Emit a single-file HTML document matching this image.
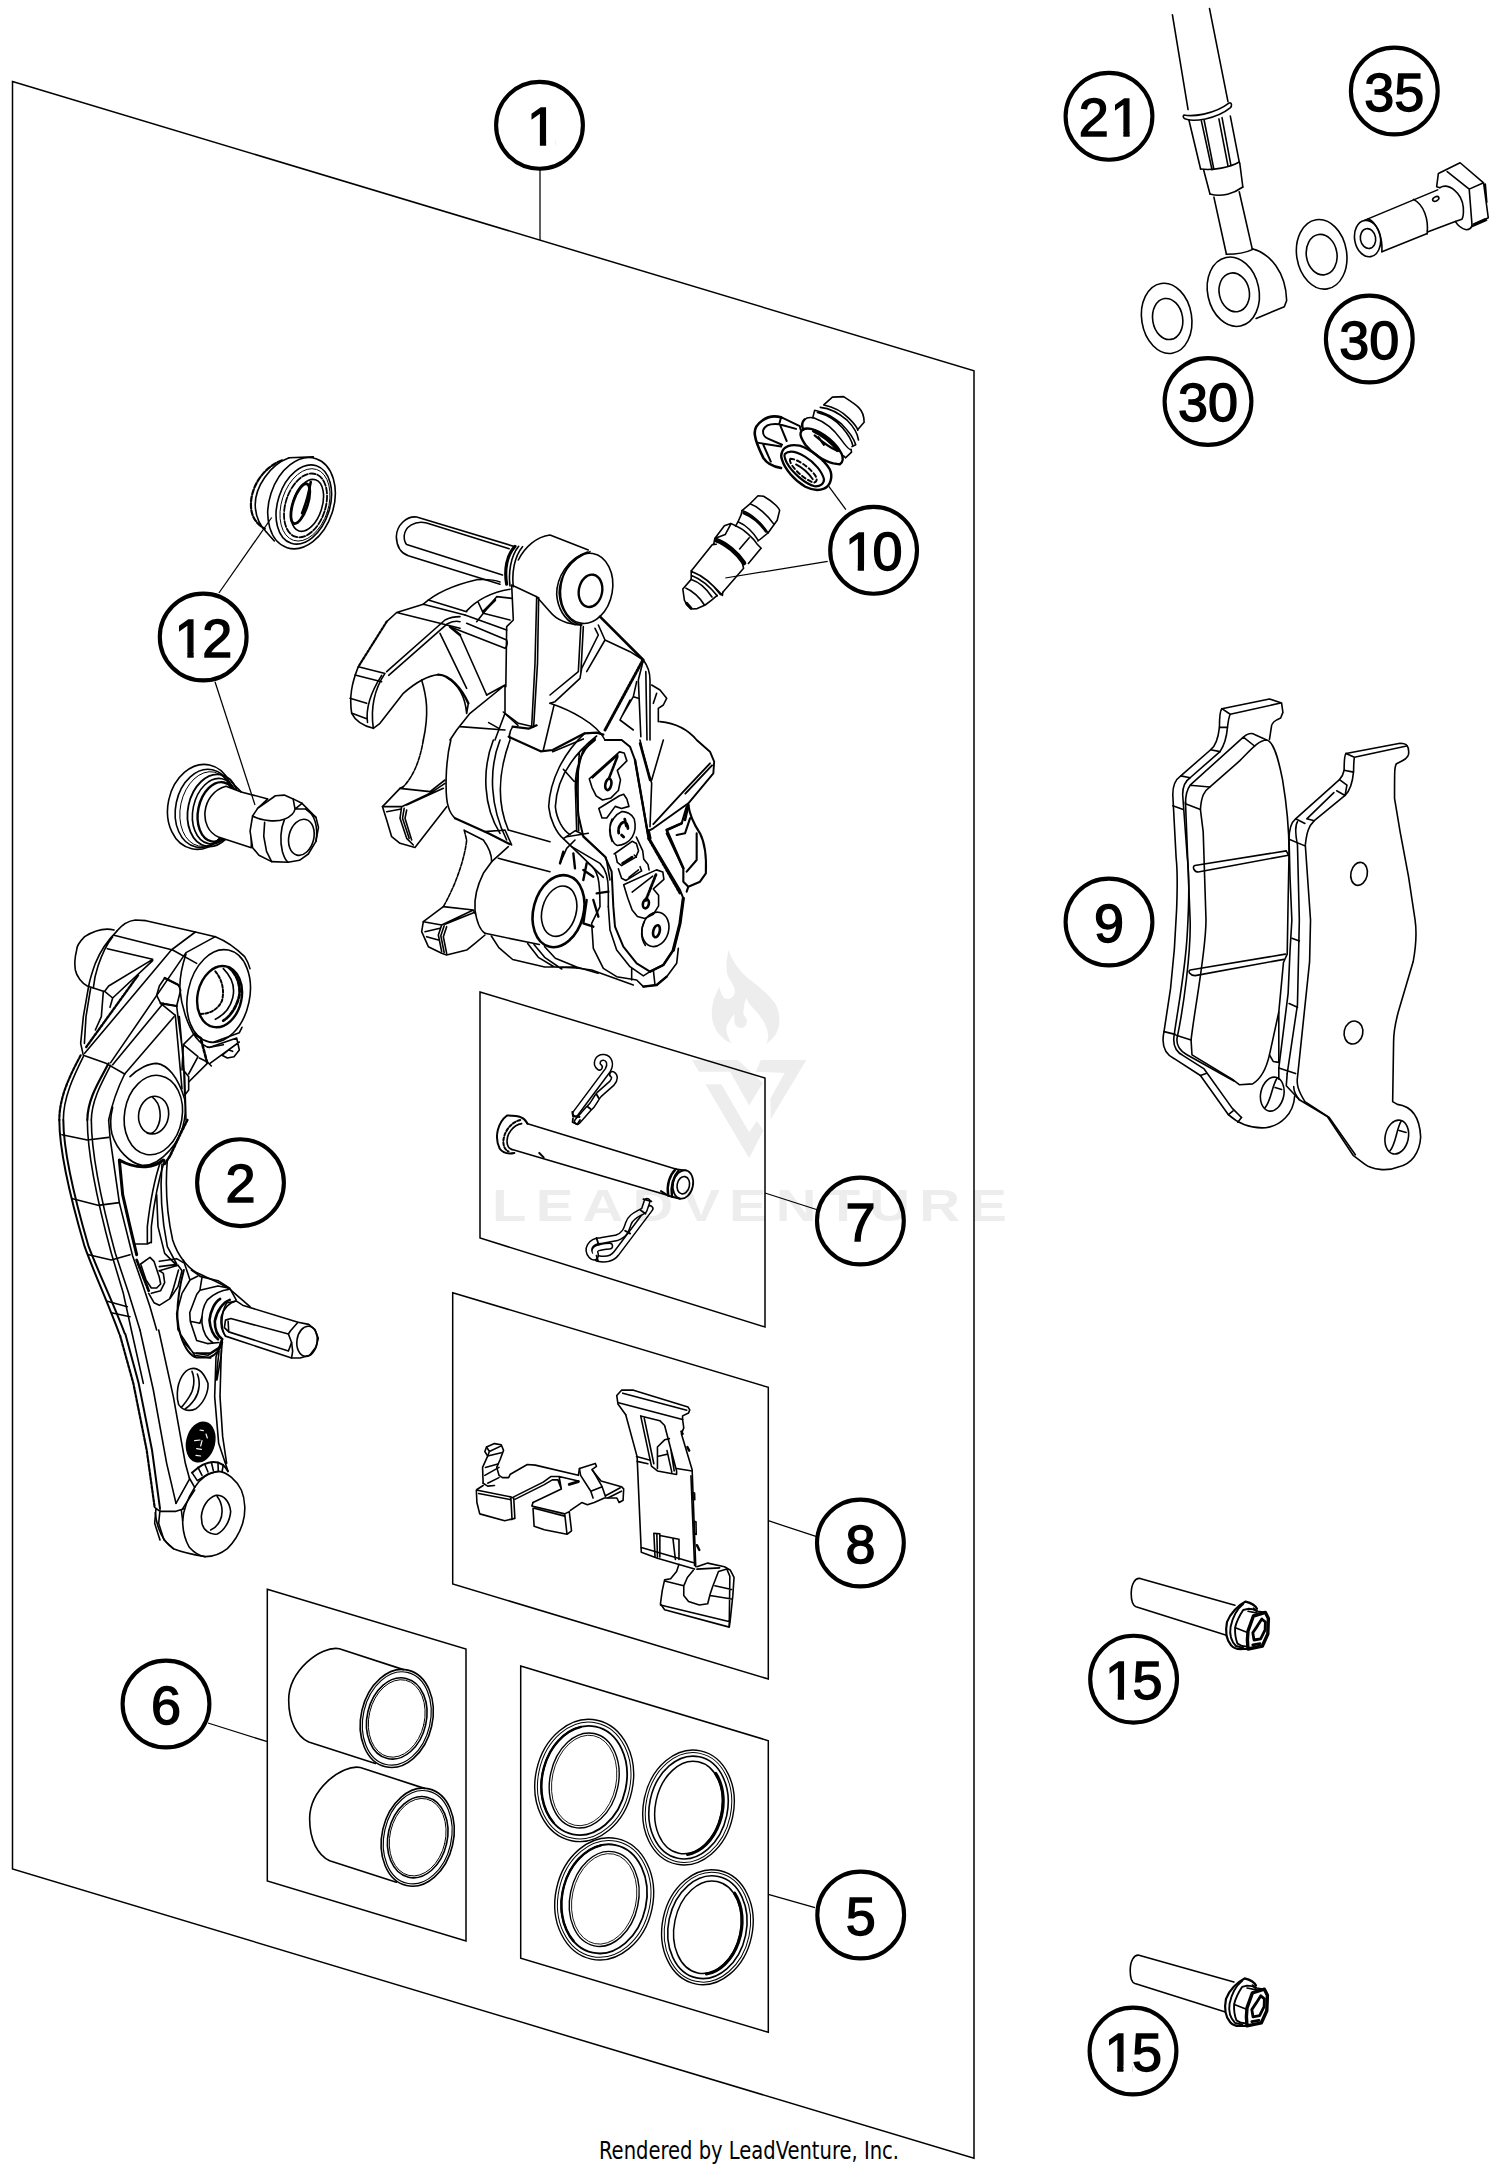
<!DOCTYPE html>
<html><head><meta charset="utf-8"><title>Brake caliper front</title>
<style>
html,body{margin:0;padding:0;background:#fff}
svg{display:block}
.l{fill:none;stroke:#000;stroke-width:1.6;stroke-linecap:round;stroke-linejoin:round}
.w{fill:#fff;stroke:#000;stroke-width:1.6;stroke-linecap:round;stroke-linejoin:round}
g.z *{vector-effect:non-scaling-stroke}
g.z{fill:none;stroke:#000;stroke-width:1.6;stroke-linecap:round;stroke-linejoin:round}
.c{fill:#fff;stroke:#000;stroke-width:4.1}
.n{font-family:"Liberation Sans",sans-serif;font-size:54px;fill:#000;stroke:#000;stroke-width:1.4}
.m{text-anchor:middle}
</style></head><body>
<svg width="1500" height="2173" viewBox="0 0 1500 2173">
<rect width="1500" height="2173" fill="#fff"/>
<!-- 10_frame.svg -->
<g id="frames" fill="none" stroke="#000" stroke-width="1.5" stroke-linejoin="miter">
<path d="M12.5 81.5 L974 370.7 L974 2158.3 L12.5 1869 Z"/>
<path d="M480 992 L765 1078 L765 1327 L480 1238 Z"/>
<path d="M452.7 1292.7 L768.3 1387.3 L768.3 1679 L452.7 1584 Z"/>
<path d="M267.3 1589.3 L466 1649 L466 1941 L267.3 1881 Z"/>
<path d="M520.7 1666 L768.3 1740.7 L768.3 2032.3 L520.7 1958.3 Z"/>
</g>
<!-- 20_hose.svg -->
<g class="z" transform="translate(1120,0) scale(0.15649)">
<path d="M335 95 L435 700 M572 55 L690 650"/>
<path d="M408 735 C460 745 600 735 698 658 C714 652 718 678 704 690 C610 765 470 778 424 762 C404 758 400 742 408 735 Z"/>
<path d="M440 765 L515 1080 M705 742 L762 1035 M520 772 L588 1085 M538 770 L600 1082 M632 760 L690 1060 M652 752 L708 1052"/>
<path d="M515 1080 C600 1090 700 1070 762 1035"/>
<path d="M535 1088 L575 1240 M765 1040 L785 1195"/>
<path d="M575 1240 C650 1262 730 1235 785 1195"/>
<path d="M600 1260 L680 1625 M762 1225 L845 1590"/>
<path d="M680 1625 C760 1625 810 1612 845 1595"/>
<ellipse cx="724" cy="1864" rx="164" ry="224" transform="rotate(-12 724 1864)"/>
<ellipse cx="730" cy="1868" rx="96" ry="125" transform="rotate(-12 730 1868)"/>
<path d="M845 1590 C960 1620 1060 1740 1065 1920 L1050 1960 L870 2035"/>
</g>
<g class="z" transform="translate(1000,0) scale(0.33333)">
<ellipse cx="500" cy="955" rx="75" ry="106" transform="rotate(-9 500 955)"/>
<ellipse cx="503" cy="957" rx="45" ry="62" transform="rotate(-9 503 957)"/>
<ellipse cx="965" cy="763" rx="75" ry="105" transform="rotate(-9 965 763)"/>
<ellipse cx="965" cy="764" rx="46" ry="61" transform="rotate(-9 965 764)"/>
</g>
<g class="z" transform="translate(1280,140) scale(0.146667)">
<ellipse cx="597" cy="672" rx="88" ry="125" transform="rotate(-10 597 672)"/>
<ellipse cx="600" cy="672" rx="52" ry="68" transform="rotate(-10 600 672)"/>
<path d="M600 537 C660 560 700 660 695 762"/>
<path d="M575 548 L1075 340 M695 762 L1000 640 M1010 626 L1195 555"/>
<path d="M910 405 C980 440 1015 540 1003 640"/>
<ellipse cx="1062" cy="402" rx="23" ry="14" transform="rotate(-30 1062 402)"/>
<path d="M1090 325 C1150 290 1240 360 1250 460 C1252 500 1248 530 1240 540 L1195 555 C1210 580 1240 605 1270 612 C1290 612 1305 600 1310 580"/>
<path d="M1090 325 L1068 318 L1080 228 L1228 155 L1388 292 L1420 530 L1310 590 L1290 335 L1388 292 M1140 215 L1290 335 M1400 300 L1410 425 M1320 572 L1400 537 M1322 585 L1408 548"/>
</g>
<!-- 30_pads.svg -->
<g class="z" transform="translate(1150,690) scale(0.186667)">
<!-- left pad backing plate -->
<path d="M640 265 L650 200 C652 175 665 165 700 150 L712 120 L705 70 L640 48 L385 100 C375 110 372 150 372 200 C365 260 345 305 325 320 L165 460 C135 480 122 520 122 560 L140 900 C152 1000 145 1300 110 1600 L75 1830 C60 1900 80 1950 130 1975 L270 2065 L420 2275 C480 2330 540 2350 620 2345 C700 2335 770 2270 775 2175"/>
<path d="M385 100 L430 130 L700 70 M430 130 C420 150 418 180 415 200 C410 260 395 300 375 330 L215 470 C185 490 175 530 175 560 L200 900 C212 1000 210 1125 200 1300 C190 1500 150 1700 130 1845 C120 1900 140 1940 180 1960 L290 2030 L440 2240 L490 2290"/>
<path d="M190 600 L215 1232 C220 1400 180 1700 145 1865 C140 1900 160 1935 200 1955 L450 2095"/>
<path d="M372 200 L415 200 M325 320 L375 330 M165 460 L215 470 M122 620 L178 640 M75 1830 L135 1845 M270 2065 L300 2055 M420 2275 L445 2255 M470 2315 L490 2290"/>
<!-- friction material -->
<path d="M270 640 C275 570 290 540 320 520 L480 380 C540 320 580 270 625 268 C665 275 690 380 710 480 C730 600 745 750 745 870 L740 1125 L735 1415 L715 1460 L690 1725 L640 1955 C625 2020 600 2080 550 2110 L480 2115 L440 2085 L225 1955 L220 1875 C240 1700 300 1400 300 1232 L285 760 Z"/>
<path d="M190 610 L270 640 M215 510 L500 252 C520 235 545 228 560 238 L625 268 M215 510 L320 520 M500 252 L560 300 M215 510 C200 530 190 570 190 610"/>
<path d="M140 1850 L220 1875"/>
<path d="M240 940 L730 862 M258 975 L742 885 M730 862 L742 885 M258 975 C235 975 225 945 240 940"/>
<path d="M215 1500 L725 1415 M242 1530 L718 1443 M242 1530 C215 1530 200 1505 215 1500"/>
<path d="M640 1955 L660 1990 L690 1995 M690 1725 L690 1995"/>
<!-- left pad ear hole -->
<ellipse cx="655" cy="2165" rx="62" ry="92" transform="rotate(12 655 2165)"/>
<path d="M680 2080 C650 2130 650 2200 615 2240 M670 2130 L705 2140"/>
<!-- right pad -->
<path d="M1050 340 L1340 285 C1375 285 1390 300 1385 345 C1380 370 1350 380 1320 395 C1310 410 1310 430 1310 580 L1340 760 L1385 1000 L1420 1232 C1430 1300 1420 1400 1410 1455 L1330 1725 C1310 1800 1305 1850 1305 1885 L1300 2205 L1325 2220 C1400 2230 1445 2280 1450 2395 C1445 2480 1400 2540 1330 2555 C1270 2580 1190 2570 1150 2540 L1090 2495 L950 2285 L800 2195 C780 2170 770 2150 770 2125"/>
<path d="M1050 340 C1040 350 1040 400 1040 430 C1035 455 1025 470 1015 480 L780 690 C755 710 745 750 745 800 L750 1000 L760 1232 L750 1400 L740 1625 L690 2025 L690 2085"/>
<path d="M1050 340 L1095 360 L1375 300 M1095 360 C1090 390 1092 420 1090 440 C1085 500 1070 540 1045 565 L880 700 C850 730 840 760 832 830 L860 1232 L855 1455 L790 2075 C785 2110 790 2140 830 2205 L960 2290 L1100 2490"/>
<path d="M1040 430 L1090 440 M1015 480 L1055 510 L1045 565 M1000 540 L1045 565 M985 550 L840 690 M780 690 L830 715 M840 690 L880 700 M745 800 L830 835"/>
<path d="M790 705 C775 730 780 780 790 830 L800 1232 L790 1685 L735 2055"/>
<path d="M690 2025 L780 2055 M735 2055 L730 2120 L800 2195 M760 1330 L800 1345 M745 1680 L790 1700"/>
<ellipse cx="1120" cy="985" rx="44" ry="62" transform="rotate(12 1120 985)"/>
<ellipse cx="1090" cy="1835" rx="50" ry="62" transform="rotate(12 1090 1835)"/>
<ellipse cx="1322" cy="2395" rx="62" ry="92" transform="rotate(12 1322 2395)"/>
<path d="M1345 2310 C1318 2360 1318 2430 1285 2470 M1335 2360 L1372 2370"/>
</g>
<!-- 40_bolts.svg -->
<defs>
<g id="bolt15">
<g class="z" transform="translate(1060,1560) scale(0.16)">
<path d="M1093 283 L500 115 C470 110 445 150 445 210 C445 260 455 285 475 292 L1040 470"/>
</g>
<g class="z" transform="translate(1200,1580) scale(0.06)">
<path stroke-width="2.2" d="M950 480 C920 420 880 390 760 360 C640 420 500 560 450 700 C420 850 440 1000 520 1090 C560 1140 620 1160 720 1150 L790 1150"/>
<path stroke-width="1.9" d="M720 400 C620 480 540 640 510 780 C490 900 520 1020 600 1100 L720 1130"/>
<path stroke-width="1.9" d="M940 520 C910 490 860 480 800 480 L720 500 C660 590 610 690 585 790 C580 900 600 1000 625 1060 L700 1100 L790 1110"/>
<path d="M600 800 L780 870 M800 520 L1000 560 M890 470 L960 520 L1090 540"/>
<path stroke-width="3.4" d="M890 600 L1090 540 L1140 640 L1130 900 L1040 1100 L800 1150 L790 1000 L800 850 Z"/>
<path stroke-width="2.8" d="M960 760 L1030 650 L1090 700 L1085 830 L1010 980 L900 1000 L880 880 Z M880 1080 L1000 1060"/>
</g>
</g>
</defs>
<use href="#bolt15"/>
<use href="#bolt15" transform="translate(-1,376.8)"/>
<!-- 50_pistons_seals.svg -->
<g class="z" transform="translate(270,1620) scale(0.133422)">
<g transform="translate(0,0)">
<path d="M1000 372 L520 215 C380 190 140 380 140 600 C140 760 200 870 290 915 L790 1075"/>
<ellipse cx="950" cy="738" rx="268" ry="372" stroke-width="1.6" transform="rotate(13 950 738)"/>
<ellipse cx="950" cy="738" rx="252" ry="354" stroke-width="1.2" transform="rotate(13 950 738)"/>
<ellipse cx="950" cy="738" rx="222" ry="308" stroke-width="1.6" transform="rotate(13 950 738)"/>
<ellipse cx="950" cy="738" rx="208" ry="294" stroke-width="1.0" transform="rotate(13 950 738)"/>
</g>
<g transform="translate(157,890)">
<path d="M1000 372 L520 215 C380 190 140 380 140 600 C140 760 200 870 290 915 L790 1075"/>
<ellipse cx="950" cy="738" rx="268" ry="372" stroke-width="1.6" transform="rotate(13 950 738)"/>
<ellipse cx="950" cy="738" rx="252" ry="354" stroke-width="1.2" transform="rotate(13 950 738)"/>
<ellipse cx="950" cy="738" rx="222" ry="308" stroke-width="1.6" transform="rotate(13 950 738)"/>
<ellipse cx="950" cy="738" rx="208" ry="294" stroke-width="1.0" transform="rotate(13 950 738)"/>
</g>
</g>
<g class="z" transform="translate(525,1700) scale(0.16)">
<g transform="rotate(12 370 503)">
<ellipse cx="370" cy="503" rx="305" ry="385" stroke-width="1.4"/>
<ellipse cx="370" cy="503" rx="288" ry="368" stroke-width="1.0"/>
<ellipse cx="370" cy="503" rx="264" ry="344" stroke-width="1.8"/>
<ellipse cx="370" cy="503" rx="214" ry="300" stroke-width="1.4"/>
<ellipse cx="370" cy="503" rx="200" ry="286" stroke-width="0.9"/>
<path stroke-width="2.4" d="M238 801 A264 344 0 0 1 280 180"/>
</g>
<g transform="rotate(12 1022 672)">
<ellipse cx="1022" cy="672" rx="282" ry="362" stroke-width="1.4"/>
<ellipse cx="1022" cy="672" rx="266" ry="346" stroke-width="1.0"/>
<ellipse cx="1022" cy="672" rx="244" ry="324" stroke-width="1.6"/>
<ellipse cx="1022" cy="672" rx="207" ry="292" stroke-width="1.5"/>
<path stroke-width="3.0" d="M1144 428 A213 298 0 0 1 1077 960"/>
</g>
<g transform="rotate(12 495 1243)">
<ellipse cx="495" cy="1243" rx="305" ry="385" stroke-width="1.4"/>
<ellipse cx="495" cy="1243" rx="288" ry="368" stroke-width="1.0"/>
<ellipse cx="495" cy="1243" rx="264" ry="344" stroke-width="1.8"/>
<ellipse cx="495" cy="1243" rx="214" ry="300" stroke-width="1.4"/>
<ellipse cx="495" cy="1243" rx="200" ry="286" stroke-width="0.9"/>
<path stroke-width="2.4" d="M363 1541 A264 344 0 0 1 405 920"/>
</g>
<g transform="rotate(12 1140 1420)">
<ellipse cx="1140" cy="1420" rx="282" ry="362" stroke-width="1.4"/>
<ellipse cx="1140" cy="1420" rx="266" ry="346" stroke-width="1.0"/>
<ellipse cx="1140" cy="1420" rx="244" ry="324" stroke-width="1.6"/>
<ellipse cx="1140" cy="1420" rx="207" ry="292" stroke-width="1.5"/>
<path stroke-width="3.0" d="M1262 1176 A213 298 0 0 1 1195 1708"/>
</g>
</g>
<!-- 60_box7.svg -->
<g class="z" transform="translate(485,1040) scale(0.146667)">
<!-- pin -->
<path d="M285 570 L1300 880 M180 745 L1250 1060"/>
<path stroke-width="2" d="M290 570 C270 530 240 515 150 515 C90 560 60 660 100 740 C120 770 150 780 200 770"/>
<path stroke-width="2" stroke-dasharray="3 2" d="M240 545 C180 560 130 620 125 690 C125 730 140 750 160 760"/>
<path stroke-width="1.6" d="M250 570 C190 580 150 640 150 690 C150 720 160 740 185 748"/>
<path stroke-width="2" d="M370 770 L400 800"/>
<path stroke-width="2.4" d="M1300 880 C1260 920 1235 990 1250 1060 M1320 890 C1285 930 1262 1000 1275 1068"/>
<path stroke-width="2" d="M1200 1030 L1250 1062 L1330 1082"/>
<ellipse cx="1350" cy="985" rx="68" ry="98" stroke-width="1.8" transform="rotate(12 1350 985)"/>
<ellipse cx="1352" cy="990" rx="42" ry="60" stroke-width="1.6" transform="rotate(12 1352 990)"/>
<path d="M1300 880 L1372 890"/>
<!-- top clip -->
<g stroke-linecap="round">
<path stroke="#000" stroke-width="7.2" d="M630 555 L705 470 C745 440 750 400 780 370 L865 295 C890 265 885 245 870 235"/>
<path stroke="#fff" stroke-width="4.2" d="M630 555 L705 470 C745 440 750 400 780 370 L865 295 C890 265 885 245 870 235"/>
<path stroke="#000" stroke-width="7.2" d="M618 500 L838 205 C860 165 850 125 810 118 C770 115 750 160 780 185"/>
<path stroke="#fff" stroke-width="4.2" d="M618 500 L838 205 C860 165 850 125 810 118 C770 115 750 160 780 185"/>
</g>
<path stroke-width="1.8" d="M595 490 L600 520 L645 525 M600 535 L597 560 L630 575 L648 545 M760 370 L775 395 M700 455 L720 470"/>
<!-- bottom clip -->
<g stroke-linecap="round">
<path stroke="#000" stroke-width="7.2" d="M1125 1150 L895 1455 C870 1490 820 1500 770 1490"/>
<path stroke="#fff" stroke-width="4.2" d="M1125 1150 L895 1455 C870 1490 820 1500 770 1490"/>
<path stroke="#000" stroke-width="7.2" d="M1105 1100 L1085 1160 C1040 1190 995 1200 978 1250 C962 1300 950 1330 900 1348 L790 1368 C715 1370 690 1430 725 1470 C745 1490 760 1480 750 1450 C740 1420 780 1410 850 1405"/>
<path stroke="#fff" stroke-width="4.2" d="M1105 1100 L1085 1160 C1040 1190 995 1200 978 1250 C962 1300 950 1330 900 1348 L790 1368 C715 1370 690 1430 725 1470 C745 1490 760 1480 750 1450 C740 1420 780 1410 850 1405"/>
</g>
<path stroke-width="1.8" d="M1080 1085 L1135 1100 M1060 1160 L1095 1185 M955 1300 L990 1320 M760 1350 L775 1395 M760 1470 L770 1505"/>
</g>
<!-- 61_box8.svg -->
<g class="z" stroke-width="1.7" transform="translate(465,1430) scale(0.113333)">
<path d="M160 470 L155 330 L200 230 L175 190 L190 150 L260 120 L320 130 L340 180 L310 260 L280 330 L300 400 L330 420 L385 420 L400 390 L550 305 L620 310 L1000 400 L1010 340 L1150 295 L1160 320 L1120 350 L1200 450 L1380 500 L1400 520 L1395 620 L1360 640 L1340 600 L1230 600 L1140 640 L1080 660 L1030 640 L930 710"/>
<path d="M200 230 L320 200 M180 330 L290 300 M175 400 L300 330 M200 470 L300 420 M160 470 L200 495 L260 490 M190 150 L215 190 L320 140 M215 190 L200 230"/>
<path d="M105 525 L160 490 M100 530 L400 590 L430 600 L440 780 L350 800 L130 740 L105 640 Z M120 560 L405 615 M405 600 L415 790"/>
<path d="M430 590 L690 460 L760 410 L830 410 L1000 450 M440 612 L700 482 L770 440 L820 440 L850 520 M830 410 L850 520 L600 640"/>
<path stroke-width="3" d="M920 480 L1000 455"/>
<path d="M600 640 L590 670 L880 740 L920 720 L940 890 L900 920 L700 880 L610 850 L600 690 M880 740 L900 920 M610 690 L880 760"/>
<path d="M1010 340 L1020 400 L1110 540 L1130 600 M1110 540 L1210 500 L1130 360 M1210 500 L1240 590 M1240 580 L1370 510 M1260 600 L1380 540" stroke-dasharray="none"/>
</g>
<g class="z" stroke-width="1.6" transform="translate(600,1380) scale(0.119675)">
<path d="M215 290 L150 200 L140 130 L180 85 L280 85 L735 225 L750 250 L740 275 L690 300 L690 330 L700 400 L680 450 L770 750 L800 1560"/>
<path d="M190 110 L725 252 M155 190 L690 330 M215 290 L310 640 L345 1440 L480 1490 L790 1580"/>
<path d="M340 300 L500 340 L540 380 L640 760 L640 790 L480 760 L430 720 Z M370 320 L450 700 M480 560 L540 500 L580 490 M480 560 L480 740 M560 590 L600 770 M480 640 L560 620 M590 570 L620 760"/>
<path d="M305 640 L420 670 M310 680 L400 700 M640 740 L770 760 M345 1400 L790 1530 M760 800 L790 1550"/>
<path d="M770 940 L790 945 L792 1000 L772 995 Z M785 1180 L802 1184 L804 1290 L788 1285 Z"/>
<path d="M450 1280 L500 1285 L500 1480 M450 1280 L460 1480 M500 1300 L660 1330 L660 1500 M610 1330 L630 1500 M475 1290 L480 1480"/>
<path stroke-width="2.4" d="M810 1380 L830 1420 M730 560 L745 590 M680 430 L690 450"/>
<path d="M660 1540 L640 1600 L590 1660 L540 1670 L520 1760 L505 1870 L540 1920 L1080 2065 L1090 1990 L1110 1800 L1120 1650 L1090 1590 L1040 1560 L900 1530 L810 1560"/>
<path d="M505 1880 L1085 2020 M540 1680 L700 1720 L730 1650 L780 1590 M700 1720 L700 1800 L740 1850 L830 1880 L900 1870 L920 1790 L940 1730 L990 1600 L1060 1580 M960 1720 L1100 1750 M920 1800 L1100 1830 M810 1580 L1000 1570 M1060 1580 L1085 1640 L1080 2060"/>
</g>
<!-- 62_part12.svg -->
<!-- guide bolt -->
<g class="z" transform="translate(150,740) scale(0.126667)">
<ellipse cx="400" cy="528" rx="258" ry="338" transform="rotate(12 400 528)"/>
<ellipse cx="428" cy="540" rx="225" ry="312" transform="rotate(12 428 540)"/>
<ellipse cx="445" cy="545" rx="205" ry="298" stroke-width="1" transform="rotate(12 445 545)"/>
<ellipse cx="500" cy="556" rx="200" ry="288" stroke-width="1.8" transform="rotate(12 500 556)"/>
<ellipse cx="515" cy="562" rx="176" ry="262" transform="rotate(12 515 562)"/>
<ellipse cx="535" cy="568" rx="155" ry="238" stroke-width="2.4" transform="rotate(12 535 568)"/>
<path fill="#fff" d="M600 365 L720 410 L930 465 L850 540 L800 700 L800 850 L540 765 C380 700 400 420 600 365 Z"/>
<path d="M640 330 L720 410"/>
<path fill="#fff" d="M810 600 L850 540 L990 440 L1060 435 L1130 465 L1200 500 L1310 610 L1330 690 L1310 800 L1250 900 L1180 950 L1090 965 L960 960 L860 910 L810 850 L790 720 Z"/>
<path d="M810 600 C880 640 1000 650 1060 625 C1110 605 1140 570 1145 545 L1130 465 M1145 545 L1230 545 L1310 610 M1145 545 L1200 500"/>
<path d="M905 650 L898 760 L920 880 L960 960 M1060 632 C1030 700 1025 800 1045 880 C1060 930 1075 955 1090 965"/>
<ellipse cx="1195" cy="768" rx="98" ry="145" transform="rotate(14 1195 768)"/>
<path d="M1230 545 C1300 580 1330 690 1310 800"/>
</g>
<!-- seal -->
<g class="z" transform="translate(140,430) scale(0.173333)">
<path stroke-width="2.2" stroke-dasharray="5 2" d="M820 175 C720 210 640 320 640 430 C640 500 670 540 720 570"/>
<path d="M860 160 C750 200 660 330 665 440 C668 500 690 550 730 590"/>
<ellipse cx="932" cy="422" rx="185" ry="270" transform="rotate(18 932 422)"/>
<path d="M860 160 L1000 155 M730 590 L775 640"/>
<ellipse cx="945" cy="430" rx="150" ry="235" transform="rotate(18 945 430)"/>
<ellipse cx="952" cy="432" rx="135" ry="215" stroke-width="1" transform="rotate(18 952 432)"/>
<ellipse cx="955" cy="435" rx="115" ry="190" stroke-width="1.8" stroke-dasharray="6 2" transform="rotate(18 955 435)"/>
<ellipse cx="965" cy="435" rx="85" ry="155" transform="rotate(18 965 435)"/>
<ellipse cx="925" cy="425" rx="42" ry="120" stroke-width="2.8" transform="rotate(18 925 425)"/>
<path stroke-width="2.6" d="M985 300 C975 360 960 420 935 480"/>
</g>
<!-- 63_part10.svg -->
<!-- dust cap -->
<g class="z" stroke-width="2" transform="translate(740,385) scale(0.093333)">
<path d="M900 210 L990 130 L1110 125 C1180 170 1240 210 1270 240 C1310 280 1330 320 1330 400 L1260 480"/>
<path d="M860 240 C960 250 1060 300 1150 380 C1220 450 1260 520 1270 590 M900 215 C1000 235 1100 290 1170 360 C1230 420 1260 470 1262 485"/>
<path d="M800 270 C900 290 1000 340 1090 420 C1170 500 1220 570 1240 640 L1200 660 M800 270 L780 350 M830 295 C930 320 1030 380 1100 460 C1160 530 1200 600 1210 655"/>
<path d="M690 370 C720 345 760 345 800 355 C900 390 1010 480 1080 580 C1130 650 1170 700 1190 690 L1195 720 L1130 780 L1110 760"/>
<path stroke-width="2.4" d="M690 370 C660 400 660 440 680 480 M650 510 C640 540 660 580 700 640 C780 740 900 820 1000 840 L1070 850 C1100 830 1110 790 1090 740 C1040 640 900 500 760 470 C700 460 660 480 650 510 Z"/>
<path stroke-width="3.6" d="M790 490 C880 530 990 620 1050 700"/>
<path stroke-width="2.2" d="M800 540 C870 600 960 670 1040 705 M840 560 L900 640"/>
<path stroke-width="2.6" d="M440 345 C380 330 300 335 240 380 C180 420 150 480 160 540 C170 620 210 700 250 780 C280 830 340 870 440 890"/>
<path stroke-width="2" d="M440 345 L640 440 L650 480 M250 480 C270 430 330 410 420 420 L600 470 M250 480 C240 520 260 560 300 575 L450 640 M430 430 L500 600 M200 620 L440 660 M250 640 L330 820 M420 420 L440 345"/>
<path stroke-width="2.4" d="M450 720 C470 660 540 630 640 650 C760 690 900 800 960 900 C1000 980 970 1080 900 1110 C840 1135 780 1130 700 1090 C580 1020 480 900 450 800 C440 770 440 740 450 720 Z"/>
<path stroke-width="2.2" d="M480 740 C520 700 600 710 700 770 C800 830 880 930 900 1010 C900 1060 860 1090 800 1085 C700 1060 560 940 500 830 C480 790 470 760 480 740 Z"/>
<path stroke-width="2" stroke-dasharray="4 3" d="M540 790 C600 790 720 860 800 960 C830 1000 830 1040 790 1045 C720 1030 600 930 550 850 C535 820 530 800 540 790 Z"/>
<path stroke-width="1.8" d="M600 850 C660 880 740 950 780 1010"/>
</g>
<!-- 64_bleed.svg -->
<g class="z" stroke-width="1.7" transform="translate(670,485) scale(0.08)">
<path d="M1000 235 L1100 135 L1170 140 C1240 180 1290 220 1320 250 C1350 280 1370 300 1370 320 L1340 440 L1225 600 M1000 235 C1100 270 1220 380 1290 480 M1000 235 L900 320 L890 370 L850 460 L820 510"/>
<path stroke-width="2.6" d="M920 350 C1020 390 1130 480 1200 580"/>
<path d="M900 320 C1000 350 1150 470 1225 600 L1100 700 M850 460 C950 500 1050 600 1100 690 M820 510 C920 550 1040 660 1090 740 L1140 790 L1130 800 L980 980"/>
<path d="M820 510 L760 480 L680 510 L560 670 M760 490 L690 620 M990 660 L870 800 M690 620 L560 670"/>
<path stroke-width="4.6" d="M580 690 C700 730 850 860 925 975"/>
<path d="M560 670 L545 745 M530 745 L580 740 M900 960 L920 1040 M530 745 L265 1075 M920 1040 L660 1340"/>
<path d="M265 1075 L290 1090 C400 1130 540 1250 655 1380 L660 1340 M270 1130 C400 1180 500 1270 590 1385 M300 1095 C420 1140 540 1250 630 1370 M265 1075 L265 1180 C360 1210 460 1300 525 1400"/>
<path d="M265 1180 L160 1300 L180 1440 L210 1500 L270 1550 L340 1545 L440 1500 L520 1440 L590 1380 M200 1290 C280 1320 380 1410 430 1500"/>
<path stroke-width="3" d="M210 1480 L262 1540"/>
</g>
<!-- 70_caliper.svg -->
<g class="z" transform="translate(300,480) scale(0.166667)">
<!-- pin -->
<path d="M1290 400 L700 222 C640 215 580 270 578 340 C580 400 610 440 650 455 L1200 625"/>
<path d="M1255 412 L760 258 C690 240 630 280 625 335 C625 365 632 380 640 387 L1215 570"/>
<path stroke-width="3.2" d="M1290 398 C1240 450 1225 540 1240 625"/>
<path d="M1335 400 C1285 460 1270 560 1280 640 M1312 398 C1262 460 1250 560 1260 635"/>
<!-- boss -->
<ellipse cx="1720" cy="650" rx="155" ry="212" transform="rotate(10 1720 650)"/>
<path d="M1740 430 C1620 470 1555 580 1555 680 C1560 780 1620 860 1690 870 M1725 432 C1605 472 1540 585 1540 685 C1545 770 1590 840 1650 868"/>
<ellipse cx="1743" cy="665" rx="70" ry="98" stroke-width="2.4" transform="rotate(10 1743 665)"/>
<path d="M1730 420 L1500 330 C1420 340 1350 400 1310 480"/>
<path d="M1420 700 L1500 790 C1540 840 1600 865 1690 870"/>
<!-- column -->
<path d="M1270 630 L1420 700 L1410 1100 L1390 1480 M1432 705 L1425 1100 L1402 1480 M1270 630 L1280 840 L1240 880 L1235 1240"/>
<!-- upper arm -->
<path d="M740 745 C800 690 900 635 1060 598 C1120 595 1170 600 1200 612"/>
<path d="M580 795 L740 745 L990 810 M770 720 L1000 790 M580 795 L960 890 M580 795 L520 850"/>
<path stroke-width="2.2" stroke-dasharray="2.2 1.6" d="M520 850 L350 1120"/>
<path d="M350 1120 C310 1220 295 1300 310 1400 C330 1440 380 1475 440 1490 L480 1460 L620 1280 C700 1210 760 1175 830 1168"/>
<path stroke-width="2.4" d="M830 1168 C900 1170 970 1250 1010 1340"/>
<path d="M880 1185 C940 1220 990 1290 1000 1400 M1010 1340 L1000 1400"/>
<path d="M520 1150 L870 840 C900 825 930 820 960 820 M532 1172 L885 862 C910 850 940 845 960 850"/>
<path d="M350 1120 L505 1160 M330 1170 L490 1210 M300 1310 L400 1340 M312 1400 L400 1432 M510 1160 C450 1250 420 1350 440 1490 M490 1172 C420 1280 395 1380 405 1455"/>
<path d="M730 1200 C760 1300 775 1400 740 1560"/>
<path d="M840 920 L1000 1250 M960 930 L1120 1290 M900 880 L1230 1010 M990 810 L1240 900 M1000 860 L1240 960 M1230 1010 C1245 1000 1245 970 1240 960"/>
<path stroke-width="2.6" d="M900 880 L960 930"/>
<path d="M1000 785 C1060 720 1140 675 1260 655 M1070 735 L1100 800 L1180 700 L1270 710 M1100 800 L1260 840 M1060 850 L1100 800"/>
<path stroke-width="2.6" d="M1100 790 L1170 720"/>
<path d="M1230 1230 L1020 1400 L940 1500 L900 1560 M1230 1230 L1230 1400 L1170 1560 M1230 1400 L1310 1460 L1400 1480 M960 1480 L1230 1500 M1120 1290 L1230 1230"/>
<!-- bridge from boss -->
<path d="M1685 870 L1670 1150 M1700 880 L1685 1160 M1790 870 L1830 960 L1980 1030 L2060 1080 M1770 890 L1790 930 L1690 1130 L1680 1190 M1830 960 L1720 1150 M1670 1150 L1500 1290 M1680 1190 L1530 1330 L1500 1340"/>
<path stroke-width="2.6" d="M1800 820 L2060 1080"/>
<path d="M1500 1340 C1620 1380 1780 1460 1830 1560"/>
<path stroke-width="3" stroke-dasharray="1.8 1.6" d="M2055 1085 L1830 1500"/>
<path d="M2060 1080 L2030 1200 L2045 1540 M2060 1080 C2090 1120 2100 1150 2100 1200 L2100 1560 M2075 1150 L2082 1560"/>
<path d="M2110 1230 L2160 1260 L2200 1310 L2180 1350 L2150 1370 M2140 1280 L2120 1340 M2150 1370 L2150 1450"/>
<path d="M1980 1320 L1920 1440 L2000 1500 M2020 1210 L2000 1300 L1930 1420 M2000 1300 L2030 1310"/>
<path stroke-width="1.9" d="M2160 1450 C2260 1460 2330 1500 2380 1560 L2460 1630 L2485 1690 L2480 1760 L2330 1940 L2120 2090 L2090 2105 M2460 1700 L2300 1870 L2120 2065 M2472 1712 L2312 1882"/>
<!-- Q3 -->
<path stroke-dasharray="4 1.5" d="M740 1560 C720 1680 680 1780 620 1840"/>
<path d="M620 1840 L600 1850 L495 1960 L520 2040 L550 2140 L600 2180 L690 2205 L740 2140 L880 1960"/>
<path d="M600 1850 L780 1870 L870 1800 M495 1960 L610 1960 L780 1880 L870 1820 M610 1960 L600 2030 L640 2150 L680 2190 M625 1970 L615 2030 L655 2150 M640 1980 L630 2030 L670 2160 M640 1950 L860 1850 M520 1990 L600 1975"/>
<path d="M905 1560 C870 1700 870 1900 890 1960 C900 2000 915 2015 930 2030"/>
<path stroke-width="2.2" d="M930 2030 L1130 2120 L1260 2185"/>
<path stroke-dasharray="4 1.5" d="M985 2100 L1000 2160 C990 2260 940 2420 860 2560"/>
<path d="M990 2105 L1100 2160 C1130 2200 1150 2250 1150 2290 L1100 2360 C1060 2440 1045 2520 1050 2580 C1060 2650 1080 2700 1110 2720"/>
<path d="M1150 2290 L1250 2200 M1190 2270 L1500 2350 M1250 2100 L1500 2170"/>
<path d="M1160 1560 C1090 1740 1100 1960 1200 2120 M1200 1560 C1130 1740 1140 1960 1240 2160 M1260 1560 C1180 1780 1190 1960 1250 2100 M1110 2110 L1230 2100 L1270 2190"/>
<path d="M860 2560 L740 2650 L730 2710 L770 2800 L850 2840 L880 2850 L1000 2820 L1050 2780 L1110 2730"/>
<path d="M860 2560 L1040 2580 M740 2650 L850 2670 L1040 2580 L1050 2600 M850 2670 L830 2730 L850 2830 M865 2675 L845 2735 L865 2835 M880 2680 L860 2740 L880 2840 M750 2710 L840 2690 M760 2740 L830 2760 M870 2665 L1045 2595"/>
<path d="M1110 2720 L1436 2787"/>
<!-- Q4 plate -->
<path stroke-width="2" d="M1770 1560 L1700 1620 C1670 1700 1660 1800 1660 1860 L1670 2010 L1700 2140 L1830 2260 L1870 2350 L1880 2560 L1890 2680 L1940 2800 L2020 2900 L2100 2950 L2180 2910 L2240 2820 L2280 2660 L2300 2510 L2280 2460 L2090 2140 L2010 1680 L1980 1600 L1930 1560 L1830 1560"/>
<path d="M1650 2160 L1600 2210 L1560 2300 M1630 2200 L1800 2300 C1840 2340 1850 2400 1850 2460 L1850 2560 M1600 2140 L1730 2120"/>
<path d="M1730 2300 C1790 2340 1800 2400 1800 2560 L1750 2660 L1760 2810 L1820 2930 L1900 2980 L2020 3000 L2060 3040 L2140 3030 L2200 2980 L2260 2900 L2270 2810"/>
<path d="M1850 2560 L1860 2700 L1900 2820 L1980 2920 L2060 2975 L2100 2950 M1990 2930 L1990 3000 M2120 2940 L2130 3030"/>
<ellipse cx="1551" cy="2587" rx="150" ry="220" stroke-width="2.6" transform="rotate(15 1551 2587)"/>
<ellipse cx="1555" cy="2587" rx="102" ry="154" transform="rotate(15 1555 2587)"/>
<path d="M1366 2781 L1430 2864 L1526 2922 L1660 2928 M1404 2787 L1468 2864 L1570 2934 M1468 2800 L1532 2870 L1660 2922 L1788 2960 M1148 2736 L1193 2806 L1276 2877 L1468 2922 L1660 2922"/>
<path stroke-width="2.4" d="M1700 2340 L1760 2380 M1720 2300 L1700 2400 M1780 2480 L1850 2470 M1760 2520 L1790 2620 M1720 2520 L1700 2660 L1760 2680 M1580 2230 L1560 2300 M1640 2240 L1650 2330"/>
<path d="M1660 2928 L1750 2940 L2000 3030"/>
<path stroke-width="2.1" d="M2330 1950 C2340 2030 2380 2090 2400 2120 C2430 2180 2440 2260 2435 2360 L2400 2410 L2330 2440 L2300 2410 M2320 1960 L2290 2060 L2200 2100 M2340 2030 L2310 2120 L2260 2130 M2380 2120 L2380 2280 L2320 2350 M2200 2120 L2300 2330 L2300 2410 M2330 2440 L2320 2470"/>
<path stroke-width="2.6" stroke-dasharray="2 1.6" d="M2090 2150 L2280 2480"/>
<path stroke-width="3.2" d="M2300 2510 L2280 2660 L2240 2820 M2090 2105 L2100 2150"/>
<path stroke-width="2.4" d="M2010 1680 L2090 2140 M2040 1580 L2100 1800"/>
<path d="M2040 1560 L2060 1640 L2110 1820 L2100 2080 M2180 1560 L2110 1800"/>
<!-- brembo moved -->
</g>
<g class="z" transform="translate(430,700) scale(0.133333)">
<path stroke-width="2.2" d="M590 275 L830 385 L920 375 L1160 250 L1250 245 L1300 260 M620 200 L740 215 L800 190"/>
<path d="M920 388 L1150 292 M620 200 C600 230 590 260 600 290 M550 90 L660 190 M930 40 L850 375 M440 170 L520 215"/>
<path d="M1160 250 C1000 400 900 600 890 800 C900 900 950 1000 1000 1040 M1250 270 C1060 420 950 600 940 800 C950 900 1000 980 1050 1010 M1240 290 C1130 380 1090 500 1090 650 L1100 980 M1120 400 C1110 500 1110 800 1115 980 M1000 520 L1080 610"/>
<path d="M1000 1040 L1090 980 L1130 1000 M1000 1040 L1300 1330 M1130 1000 L1320 1180 L1350 1350"/>
</g>
<g class="z" transform="translate(300,480) scale(0.166667)">
<path stroke-width="2.6" d="M2200 2100 L2300 2330 M2330 1950 L2310 2040 M2290 2060 L2200 2100"/>
<path stroke-width="2.4" d="M2100 2950 L2180 2910 L2240 2820 M2060 3040 L2140 3030 L2200 2980"/>
</g>
<g class="z" stroke-width="2.1" transform="translate(575,745) scale(0.10582)">
<path d="M135 320 L420 65 L465 75 L490 150 L400 240 L430 330 L410 430 L340 500 L260 520 L200 480 L160 400 Z M165 310 L405 95"/>
<ellipse cx="315" cy="372" rx="28" ry="55" stroke-width="2.6" transform="rotate(12 315 372)"/>
<path stroke-width="2.6" stroke-dasharray="2 1.4" d="M400 112 L325 305"/>
<path d="M225 600 L420 480 L460 465 L490 510 L510 580 L440 600 L380 580 L300 690 L255 690 Z"/>
<path d="M330 780 C335 720 390 650 440 630 C480 625 540 650 560 700 C575 760 565 830 540 870 C510 920 450 950 400 950 C360 935 330 870 330 780 Z M350 700 C320 760 320 850 350 910"/>
<path stroke-width="2.8" stroke-dasharray="3 1.6" d="M500 790 C500 740 470 715 440 740 C415 765 405 800 415 840 M470 700 L485 765 M440 850 L470 880"/>
<path d="M370 1030 L540 910 L580 930 L600 1000 L575 1060 L440 1140 L400 1110 L385 1040 M410 1170 L440 1260 L480 1280 L630 1190 L615 1150 M580 870 L640 1000 L650 1080 L690 1130 L700 1180"/>
<path stroke-width="2.8" stroke-dasharray="3 1.6" d="M540 1060 L450 1120"/>
<path d="M600 1180 L510 1250 M560 1040 L580 1060"/>
<path d="M460 1320 L770 1180 L830 1200 L840 1270 L740 1360 L790 1420 L790 1520 L740 1600 L660 1640 L590 1620 L540 1560 L500 1450 Z M540 1390 L735 1240"/>
<path stroke-width="2.8" stroke-dasharray="2 1.4" d="M765 1225 L668 1470"/>
<ellipse cx="670" cy="1500" rx="28" ry="44" stroke-width="2.6" transform="rotate(12 670 1500)"/>
<ellipse cx="760" cy="1742" rx="125" ry="165" transform="rotate(15 760 1742)"/>
<path d="M655 1670 C620 1740 620 1830 665 1895"/>
<ellipse cx="770" cy="1760" rx="30" ry="58" stroke-width="2.6" transform="rotate(15 770 1760)"/>
</g>
<!-- 72_bracket.svg -->
<g class="z" transform="translate(50,910) scale(0.133333)">
<!-- B1 -->
<path d="M500 160 C540 110 590 80 640 75 L720 80 L1090 165 L1240 200 C1340 240 1420 310 1460 350 C1485 390 1495 420 1500 440"/>
<path d="M480 150 C420 135 340 150 260 200 C220 240 200 280 200 300 C185 360 185 420 190 450 C200 500 240 550 280 570 L400 610"/>
<path d="M500 160 C440 220 380 300 340 400 C315 470 300 520 290 570 M470 200 C430 250 390 330 360 420 C340 480 330 530 325 585"/>
<path d="M480 190 L920 300 L1100 400 M430 290 L770 370 L440 570 L410 610 M770 380 L470 660 L450 730 M410 610 L470 660"/>
<path d="M1090 165 L910 300 L260 1075 M1240 200 L1020 320 L455 1145 M850 700 L470 1160 M930 800 L560 1230"/>
<path stroke-width="2.4" stroke-dasharray="2 1.6" d="M660 490 L270 1030"/>
<path d="M290 570 L250 800 L230 1000 L250 1090 L420 1150 L560 1230 M305 585 L270 800 L258 1000 M400 610 L385 800 L340 900"/>
<path d="M860 510 L820 570 L800 640 L830 700 L950 720 M860 510 L960 560 L980 600 L950 720 M830 700 L940 790"/>
<path stroke-width="2.2" d="M860 510 L960 560 M830 700 L950 720"/>
<ellipse cx="1265" cy="645" rx="232" ry="352" transform="rotate(12 1265 645)"/>
<path d="M1020 330 C990 420 970 520 975 600 C985 720 1030 860 1090 950 C1130 1000 1170 1030 1200 1030 L1300 1010"/>
<ellipse cx="1272" cy="650" rx="165" ry="232" stroke-width="2.4" transform="rotate(12 1272 650)"/>
<path stroke-width="2" stroke-dasharray="3 2" d="M1240 460 C1290 520 1310 600 1290 680 C1260 750 1190 780 1130 780"/>
<path stroke-width="2.8" stroke-dasharray="4 2" d="M1340 430 C1400 480 1430 560 1420 640 C1400 730 1350 800 1300 830"/>
<path d="M1300 440 C1360 500 1390 580 1370 660 C1350 740 1300 790 1240 820"/>
<path d="M1230 990 L1420 920 L1440 880 M1200 1030 L1400 960 L1420 1050 L1380 1100 L1330 1110 L1290 1090 L1340 1050 L1370 1060 M1200 1150 L1420 990"/>
<path d="M1080 930 L1000 1010 L990 1200 M1000 1010 L1110 1100 L1040 1230 M1120 1110 L1180 1140 L1210 1170 M1180 1150 L1040 1290"/>
<path stroke-width="2.6" stroke-dasharray="3 2" d="M1080 930 L1130 960 L1180 1150"/>
<path d="M950 720 L960 800 L1000 1100 L1010 1380 M940 790 L990 1340 M970 800 L1010 1250 L1020 1575 M1000 1200 L1040 1250 L1040 1350 L1010 1390"/>
<path stroke-width="2.2" stroke-dasharray="3 1.5" d="M230 1090 C150 1240 70 1400 70 1575"/>
<path d="M250 1100 C175 1250 100 1410 100 1575"/>
<path stroke-width="2.2" d="M440 1150 C360 1300 282 1420 280 1575"/>
<path d="M455 1165 C385 1300 312 1430 310 1575 M560 1230 C500 1350 460 1480 440 1575"/>
<path d="M600 1250 C660 1190 740 1150 800 1150 C880 1160 960 1250 1010 1420 C1030 1560 990 1700 900 1800 C830 1880 760 1920 690 1915 C600 1900 500 1800 465 1680 C450 1620 450 1560 470 1480"/>
<ellipse cx="775" cy="1538" rx="216" ry="300" transform="rotate(10 775 1538)"/>
<ellipse cx="777" cy="1538" rx="112" ry="142" transform="rotate(10 777 1538)"/>
<path d="M770 1405 C830 1450 845 1560 800 1640 C780 1670 750 1680 730 1675"/>
<!-- B2 (+1575) -->
<path stroke-width="2" d="M70 1575 C70 1800 150 2150 260 2525 C330 2720 440 2960 520 3180 M100 1575 C100 1800 180 2150 290 2525 C360 2710 475 2950 560 3175"/>
<path d="M280 1575 C280 1800 345 2150 460 2575 L550 2875 L610 3150 L700 3550 M310 1575 C310 1800 375 2150 490 2575 L590 2875 L675 3150"/>
<path d="M90 1685 L280 1725 L440 1705 M170 2165 L360 2215 L520 2195 M290 2585 L460 2625 L600 2585 M430 2935 L580 2975 M460 3020 L600 3050"/>
<path d="M440 1575 L450 1705 L520 2195 L620 2595 L700 2825 L750 2975 L800 3150"/>
<path stroke-width="3" d="M520 1875 L545 2135 L600 2375 L650 2585 M520 1875 C580 1910 650 1930 720 1925 C780 1920 820 1900 850 1875"/>
<path d="M830 1885 C790 2000 750 2200 730 2375 L730 2505 M860 1875 C820 2000 780 2200 760 2375 L760 2495 M640 2505 L730 2505 L760 2490"/>
<path stroke-width="2.6" stroke-dasharray="2.4 1.6" d="M1030 1575 L980 1675 L900 1845 L860 1905"/>
<path d="M880 1875 C865 2050 870 2250 920 2475 C960 2600 1040 2690 1110 2725 C1180 2760 1270 2790 1350 2845 L1500 2975"/>
<path d="M840 1905 C825 2080 835 2300 880 2525 L950 2655 M800 2135 L810 2375 L860 2575 L950 2665"/>
<path d="M680 2655 L750 2605 L780 2635 L820 2755 L830 2805 L800 2835 L760 2835 L720 2775 Z M760 2875 L830 2855 L860 2795 L850 2725 L820 2705"/>
<path stroke-width="2.8" stroke-dasharray="2 1.6" d="M650 2625 L740 2855"/>
<path d="M820 2635 L950 2615 L1000 2645 M820 2675 L940 2660 M820 2705 L960 2665"/>
<path d="M960 2665 L990 2705 L960 2825 L900 2915 L820 2965 L780 2945 L740 2875 M1000 2625 L1050 2775 L1110 2745 M1050 2775 L990 2875 L950 3025 L960 3150"/>
<!-- B3 (+525,+3150) -->
<path stroke-width="2.2" stroke-dasharray="3 1.4" d="M525 3190 L625 3550 L725 4050 L785 4480"/>
<path stroke-width="2" d="M565 3180 L665 3550 L765 4050 L825 4490"/>
<path d="M675 3150 L775 3600 L875 4150 L945 4450 M815 3150 L925 3650 L1015 4150 L1045 4260"/>
<path d="M1285 3230 L1245 3350 L1235 3650 L1265 4000 L1315 4150 L1335 4210 M1285 3300 L1275 3650 L1295 3950 L1325 4150"/>
<path d="M965 3150 L995 3230 L1075 3320 L1185 3340 L1265 3290 L1285 3230 M985 3190 L1085 3340 L1205 3360"/>
<path d="M955 3620 C960 3520 1010 3450 1055 3440 C1100 3430 1150 3460 1185 3550 C1190 3620 1150 3700 1095 3740 C1050 3760 1000 3760 965 3710 C955 3680 953 3650 955 3620 Z M1065 3460 C1090 3520 1080 3600 1045 3650 C1020 3690 1000 3715 985 3730 M1105 3480 C1130 3540 1120 3620 1085 3670 C1060 3705 1035 3730 1015 3740"/>
<ellipse cx="1130" cy="3990" rx="103" ry="150" fill="#000" transform="rotate(14 1130 3990)"/>
<path stroke="#fff" stroke-width="1.2" d="M1085 3980 L1125 3975 M1100 4040 L1135 4045 M1095 4090 L1130 4095 M1125 3900 L1150 3905 M1170 3930 L1180 3960 M1140 3980 L1130 4020"/>
<path d="M1085 4330 C1120 4270 1190 4215 1265 4210 C1330 4215 1400 4280 1435 4350 C1465 4420 1470 4520 1445 4600 C1420 4680 1380 4740 1330 4790 C1280 4830 1230 4850 1165 4850 C1050 4830 950 4800 925 4790 C850 4740 800 4640 790 4520"/>
<path d="M1085 4330 C1040 4400 1000 4500 995 4580 C995 4650 1010 4720 1045 4780 C1080 4820 1120 4845 1165 4850"/>
<path d="M1135 4550 C1140 4480 1180 4410 1245 4390 C1300 4385 1345 4430 1355 4510 C1350 4590 1300 4660 1255 4680 C1200 4690 1150 4650 1140 4600 Z M1255 4400 C1295 4450 1300 4530 1275 4580 C1255 4620 1230 4640 1205 4650"/>
<path stroke-width="2" d="M1065 4220 C1120 4170 1180 4140 1225 4140 C1270 4140 1310 4160 1335 4210"/>
<path d="M1110 4180 L1140 4240 M1160 4155 L1185 4215 M1210 4140 L1225 4205 M1260 4145 L1262 4205 M1300 4160 L1290 4215"/>
<path d="M1045 4260 L1085 4330 M1065 4220 L1105 4280 L1185 4230 L1265 4210 M945 4450 L1045 4270 M995 4490 L1085 4350"/>
<path d="M785 4480 L825 4510 L945 4510 L1005 4490 M795 4490 L785 4600 L825 4725 M825 4500 L815 4600 L855 4725 L925 4790 M985 4500 L995 4580"/>
</g>
<!-- stud + nut -->
<g class="z" transform="translate(170,1270) scale(0.106667)">
<path fill="#fff" d="M620 290 L680 330 L1200 490 L1300 510 L1360 560 L1390 640 L1370 720 L1310 800 L1220 825 L1140 825 L520 620 C470 540 480 400 530 310 Z"/>
<path d="M520 470 L570 455 L1110 600 L1140 680 L1110 760 L550 580 L510 540 Z M545 480 L550 570"/>
<ellipse cx="1285" cy="668" rx="95" ry="142" transform="rotate(8 1285 668)"/>
<path d="M1200 490 L1130 570 L1110 600 M1140 680 L1150 760 L1140 825"/>
<path d="M620 290 C560 300 500 360 480 440 C470 520 490 580 520 620"/>
<path stroke-width="2.6" d="M560 280 C500 300 440 380 420 480 C420 560 450 620 490 650 M470 270 C420 300 380 380 370 470 C375 550 410 620 450 650"/>
<path d="M560 180 C480 190 400 230 350 280 C310 340 295 430 300 500 C310 580 350 650 400 680"/>
<path d="M450 150 L280 190 L250 230 L185 400 L190 480 L250 660 L350 690 L460 680 M190 480 L280 500 L300 440 M280 190 L300 70 M450 150 L560 170 L620 280 M280 60 L450 100 L560 170 M200 0 L300 70"/>
<path stroke-width="2" d="M130 0 C90 150 65 300 70 450 C75 560 120 700 170 760 C200 800 230 815 250 820 L370 820 C420 800 470 750 490 680 M250 780 L380 780 L470 720"/>
<path d="M490 660 L480 800 L440 1031 M460 760 L430 1031 M80 0 C50 100 30 200 0 260"/>
</g>
<!-- 90_labels.svg -->
<defs>
<clipPath id="c1"><path clip-rule="evenodd" d="M-10 -60 H70 V10 H-10 Z M0 -5 H12.8 V4 H0 Z M19 -5 H28.3 V4 H19 Z"/></clipPath>
<clipPath id="c2"><path clip-rule="evenodd" d="M-10 -60 H70 V10 H-10 Z M29.5 -5 H44.6 V4 H29.5 Z M50.8 -5 H61 V4 H50.8 Z"/></clipPath>
</defs>
<g id="leaders" fill="none" stroke="#000" stroke-width="1.25">
<path d="M540 169 L540 240"/>
<path d="M218.9 593 L271.7 517.5"/>
<path d="M215 681.7 L255 805"/>
<path d="M845.9 509.7 L828.8 486.3"/>
<path d="M827.7 561.4 L725.3 578"/>
<path d="M765 1193 L818 1210"/>
<path d="M768.3 1520.7 L816.7 1536.7"/>
<path d="M208 1723 L267.3 1741.7"/>
<path d="M768.3 1894.3 L815 1907.7"/>
</g>
<g id="balloons">
<circle class="c" cx="539.5" cy="125.3" r="43.4"/>
<g transform="translate(527.1,145.0)"><text class="n" clip-path="url(#c1)" x="0">1</text></g>
<circle class="c" cx="1109" cy="116.3" r="43.4"/>
<g transform="translate(1078.8,136.0)"><text class="n" clip-path="url(#c2)" x="0 31.8">21</text></g>
<circle class="c" cx="1394.3" cy="91" r="43.4"/>
<text class="n m" x="1394.3" y="110.7">35</text>
<circle class="c" cx="1369.3" cy="339" r="43.4"/>
<text class="n m" x="1369.3" y="358.7">30</text>
<circle class="c" cx="1208" cy="401.5" r="43.4"/>
<text class="n m" x="1208" y="421.2">30</text>
<circle class="c" cx="873.6" cy="550.3" r="43.4"/>
<g transform="translate(845.0,570.0)"><text class="n" clip-path="url(#c1)" x="0 27.6">10</text></g>
<circle class="c" cx="203.2" cy="637" r="43.4"/>
<g transform="translate(174.6,656.7)"><text class="n" clip-path="url(#c1)" x="0 27.6">12</text></g>
<circle class="c" cx="240.5" cy="1182.7" r="43.4"/>
<text class="n m" x="240.5" y="1202.4">2</text>
<circle class="c" cx="860.4" cy="1221" r="43.4"/>
<text class="n m" x="860.4" y="1240.7">7</text>
<circle class="c" cx="860.4" cy="1543" r="43.4"/>
<text class="n m" x="860.4" y="1562.7">8</text>
<circle class="c" cx="166" cy="1704" r="43.4"/>
<text class="n m" x="166" y="1723.7">6</text>
<circle class="c" cx="860.7" cy="1915" r="43.4"/>
<text class="n m" x="860.7" y="1934.7">5</text>
<circle class="c" cx="1109" cy="922" r="43.4"/>
<text class="n m" x="1109" y="941.7">9</text>
<circle class="c" cx="1133.6" cy="1679.2" r="43.4"/>
<g transform="translate(1105.0,1698.9)"><text class="n" clip-path="url(#c1)" x="0 27.6">15</text></g>
<circle class="c" cx="1133" cy="2051" r="43.4"/>
<g transform="translate(1104.4,2070.7)"><text class="n" clip-path="url(#c1)" x="0 27.6">15</text></g>
</g>
<!-- 95_footer.svg -->
<text x="599" y="2158.8" font-family="'DejaVu Sans Condensed','DejaVu Sans',sans-serif" font-size="25" textLength="300" lengthAdjust="spacingAndGlyphs" fill="#000">Rendered by LeadVenture, Inc.</text>
<!-- 99_watermark.svg -->
<g id="watermark" fill="#000" fill-opacity="0.07" stroke="none">
<text transform="translate(749.5,1220.7) scale(1.3,1)" x="0" y="0" text-anchor="middle" font-family="'Liberation Sans',sans-serif" font-weight="bold" font-size="43.5" textLength="396" lengthAdjust="spacing">LEADVENTURE</text>
<g transform="translate(680,940) scale(0.10582)">
<path d="M460 90 C480 180 560 290 640 360 C720 420 850 520 900 600 C940 680 955 770 920 860 C900 910 850 960 810 985 C835 940 835 900 830 880 C825 850 815 820 800 790 C785 760 765 730 740 700 C710 665 680 635 660 610 C645 590 635 565 630 545 C615 580 605 615 605 640 C600 665 598 685 600 700 C610 720 625 735 630 750 C635 770 632 785 625 800 C618 815 605 825 590 830 C575 832 558 830 545 825 C530 815 520 800 515 780 C512 760 512 740 515 720 L520 700 C500 715 480 740 470 760 C450 790 440 810 440 830 C438 855 442 880 450 900 C458 925 470 950 490 975 C450 965 420 945 400 920 C370 895 345 865 330 830 C310 790 300 745 300 700 C300 650 308 600 320 560 C335 520 352 480 375 440 C375 465 380 485 390 500 C398 520 408 538 420 550 C435 558 452 560 470 555 C485 548 500 535 510 520 C518 500 520 480 515 460 C508 435 495 410 480 390 C465 368 452 345 445 320 C438 280 438 240 440 200 C445 165 452 125 460 90 Z"/>
</g>
<g transform="translate(685,1050) scale(0.08667)">
<path d="M80 115 L610 115 L900 380 L740 640 L520 250 L160 250 Z"/>
<path d="M875 115 L1400 115 L990 800 L985 560 L1150 265 L815 250 Z"/>
<path d="M235 395 L420 395 L740 950 L830 820 L905 930 L740 1250 Z"/>
</g>
</g>
</svg>
</body></html>
